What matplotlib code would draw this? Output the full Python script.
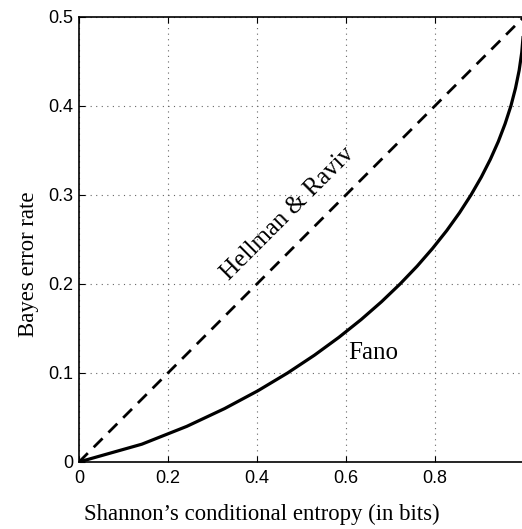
import matplotlib
matplotlib.use('Agg')
import matplotlib.pyplot as plt

# conditional entropy (bits) vs. error rate
entropy = [0.0, 0.1414, 0.2423, 0.3274, 0.4022, 0.4690, 0.5294, 0.5842, 0.6343,
           0.6801, 0.7219, 0.7602, 0.7950, 0.8268, 0.8555, 0.8813, 0.9044, 0.9248,
           0.9427, 0.9580, 0.9710, 0.9814, 0.9896, 0.9954, 0.9988, 1.0]
fano_err = [0.0, 0.02, 0.04, 0.06, 0.08, 0.10, 0.12, 0.14, 0.16, 0.18, 0.20, 0.22,
            0.24, 0.26, 0.28, 0.30, 0.32, 0.34, 0.36, 0.38, 0.40, 0.42, 0.44, 0.46,
            0.48, 0.50]
hr_entropy = [0.0, 1.0]
hr_err = [0.0, 0.5]

xticks = [0, 0.2, 0.4, 0.6, 0.8]
yticks = [0, 0.1, 0.2, 0.3, 0.4, 0.5]

fig = plt.figure(figsize=(5.22, 5.29), dpi=100)
ax = fig.add_axes([0.1513, 0.1267, 0.8487, 0.8412])

ax.plot(entropy, fano_err, color='black', lw=2.3, solid_joinstyle='miter')
ax.plot(hr_entropy, hr_err, color='black', lw=2.0, linestyle=(0, (4.5, 3)))

ax.set_xlim(0, 0.996)
ax.set_ylim(0, 0.5)
ax.set_xticks(xticks)
ax.set_yticks(yticks)
ax.set_xticklabels(['0', '0.2', '0.4', '0.6', '0.8'], family='Liberation Sans', fontsize=13)
ax.set_yticklabels(['0', '0.1', '0.2', '0.3', '0.4', '0.5'], family='Liberation Sans', fontsize=13)
ax.tick_params(direction='in', length=4, width=0.8, top=True, right=False, pad=4)
ax.tick_params(axis='x', pad=6)
ax.spines['right'].set_visible(False)
for s in ['left', 'top', 'bottom']:
    ax.spines[s].set_linewidth(1.2)
ax.grid(True, linestyle=(0, (1, 4)), color='#666666', linewidth=0.8)

ax.set_xlabel('Shannon\u2019s conditional entropy (in bits)', family='Liberation Serif', fontsize=16.4)
ax.set_ylabel('Bayes error rate', family='Liberation Serif', fontsize=16.4)
ax.xaxis.set_label_coords(0.412, -0.094)
ax.yaxis.set_label_coords(-0.09, 0.444)

ax.text(0.470, 0.279, 'Hellman & Raviv', family='Liberation Serif', fontsize=18,
        rotation=45, ha='center', va='center', rotation_mode='anchor')
ax.text(0.661, 0.1225, 'Fano', family='Liberation Serif', fontsize=18, ha='center', va='center')

fig.savefig('out.png', dpi=100)
